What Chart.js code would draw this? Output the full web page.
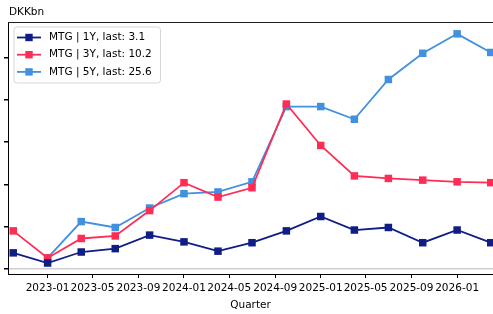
<!DOCTYPE html>
<html>
<head>
<meta charset="utf-8">
<script src="https://cdn.jsdelivr.net/npm/chart.js@4.4.0/dist/chart.umd.min.js"></script>
<style>
  html, body { margin: 0; padding: 0; background: #fff; }
  #wrap { width: 493px; height: 314px; position: relative; }
</style>
</head>
<body>
<div id="wrap"><canvas id="myChart"></canvas></div>
<script>
// quarters (start of quarter)
var quarters = ['2022-10', '2023-01', '2023-04', '2023-07', '2023-10', '2024-01', '2024-04', '2024-07',
                '2024-10', '2025-01', '2025-04', '2025-07', '2025-10', '2026-01', '2026-04'];
var mtg1Y = [1.9, 0.7, 2.0, 2.4, 4.0, 3.2, 2.1, 3.1, 4.5, 6.2, 4.6, 4.9, 3.1, 4.6, 3.1];
var mtg3Y = [4.5, 1.3, 3.6, 3.9, 6.9, 10.2, 8.5, 9.6, 19.5, 14.6, 11.0, 10.7, 10.5, 10.3, 10.2];
var mtg5Y = [null, 1.3, 5.6, 4.9, 7.2, 8.9, 9.1, 10.3, 19.2, 19.2, 17.7, 22.4, 25.5, 27.8, 25.6];
var tickMonths = ['2023-01', '2023-05', '2023-09', '2024-01', '2024-05', '2024-09',
                  '2025-01', '2025-05', '2025-09', '2026-01'];
var yTicks = [0, 5, 10, 15, 20, 25];

var FONT = "'DejaVu Sans', sans-serif";
var BASE = Date.UTC(2023, 0, 1);

function toDay(ym) {
    var p = ym.split('-');
    return (Date.UTC(+p[0], +p[1] - 1, 1) - BASE) / 86400000;
}
function fromDay(d) {
    var dt = new Date(BASE + d * 86400000);
    var m = dt.getUTCMonth() + 1;
    return dt.getUTCFullYear() + '-' + (m < 10 ? '0' + m : m);
}
function pts(values) {
    return values.map(function (v, i) { return {x: toDay(quarters[i]), y: v}; });
}

var series = [
    {label: 'MTG | 1Y, last: 3.1', data: mtg1Y, color: '#0f1d85'},
    {label: 'MTG | 3Y, last: 10.2', data: mtg3Y, color: '#ff2d55'},
    {label: 'MTG | 5Y, last: 25.6', data: mtg5Y, color: '#4191de'}
];

// frame, "DKKbn" and the legend box
var extras = {
    id: 'extras',
    afterDraw: function (chart) {
        var c = chart.ctx, a = chart.chartArea;
        c.save();
        c.strokeStyle = '#222';
        c.lineWidth = 1;
        c.beginPath();
        c.moveTo(a.left, a.top + 0.5);
        c.lineTo(a.right, a.top + 0.5);
        c.stroke();

        c.fillStyle = '#000';
        c.font = '10.5px ' + FONT;
        c.textBaseline = 'middle';
        c.fillText('DKKbn', 9, 12);

        // legend
        var x0 = 14, y0 = 27, w = 146.5, h = 56, r = 3;
        c.beginPath();
        c.moveTo(x0 + r, y0);
        c.arcTo(x0 + w, y0, x0 + w, y0 + h, r);
        c.arcTo(x0 + w, y0 + h, x0, y0 + h, r);
        c.arcTo(x0, y0 + h, x0, y0, r);
        c.arcTo(x0, y0, x0 + w, y0, r);
        c.closePath();
        c.fillStyle = 'rgba(255,255,255,0.8)';
        c.fill();
        c.strokeStyle = '#d6d6d6';
        c.stroke();
        series.forEach(function (s, i) {
            var yy = 37.5 + i * 17.2;
            c.strokeStyle = s.color;
            c.lineWidth = 1.8;
            c.beginPath();
            c.moveTo(17, yy);
            c.lineTo(41, yy);
            c.stroke();
            c.fillStyle = s.color;
            c.fillRect(25.3, yy - 3.7, 7.4, 7.4);
            c.fillStyle = '#000';
            c.fillText(s.label, 49, yy);
        });
        c.restore();
    }
};

var ctx = document.getElementById('myChart').getContext('2d');
var myChart = new Chart(ctx, {
    type: 'line',
    data: {
        datasets: series.map(function (s) {
            return {
                label: s.label,
                data: pts(s.data),
                borderColor: s.color,
                backgroundColor: s.color,
                borderWidth: 1.8,
                pointStyle: 'rect',
                pointRadius: 5.3,
                pointBorderWidth: 0,
                pointHoverRadius: 5.3,
                tension: 0,
                spanGaps: false
            };
        })
    },
    options: {
        responsive: true,
        maintainAspectRatio: false,
        animation: false,
        layout: {autoPadding: false, padding: {top: 22, right: 0, left: 0, bottom: 0}},
        plugins: {
            legend: {display: false},
            tooltip: {enabled: false}
        },
        scales: {
            x: {
                type: 'linear',
                min: -106,
                max: 1192,
                afterBuildTicks: function (scale) {
                    scale.ticks = tickMonths.map(function (m) { return {value: toDay(m)}; });
                },
                afterFit: function (scale) {
                    scale.height = 40;
                    scale.paddingLeft = 0;
                    scale.paddingRight = 0;
                },
                ticks: {
                    autoSkip: false,
                    maxRotation: 0,
                    padding: 4,
                    color: '#000',
                    font: {family: FONT, size: 10.5},
                    callback: function (v) { return fromDay(v); }
                },
                grid: {drawOnChartArea: false, tickLength: 4, tickColor: '#000'},
                border: {color: '#000', width: 1},
                title: {
                    display: true,
                    text: 'Quarter',
                    color: '#000',
                    font: {family: FONT, size: 10.5},
                    padding: {top: 0, bottom: 2}
                }
            },
            y: {
                min: -0.6,
                max: 29.2,
                afterBuildTicks: function (scale) {
                    scale.ticks = yTicks.map(function (v) { return {value: v}; });
                },
                afterFit: function (scale) {
                    scale.width = 8;
                    scale.paddingTop = 0;
                    scale.paddingBottom = 0;
                },
                ticks: {display: false},
                grid: {
                    drawOnChartArea: true,
                    tickLength: 4,
                    tickColor: '#000',
                    lineWidth: 1.5,
                    color: function (c) { return c.tick && c.tick.value === 0 ? '#d0d0d0' : 'rgba(0,0,0,0)'; }
                },
                border: {color: '#000', width: 1}
            }
        }
    },
    plugins: [extras]
});
</script>
</body>
</html>
